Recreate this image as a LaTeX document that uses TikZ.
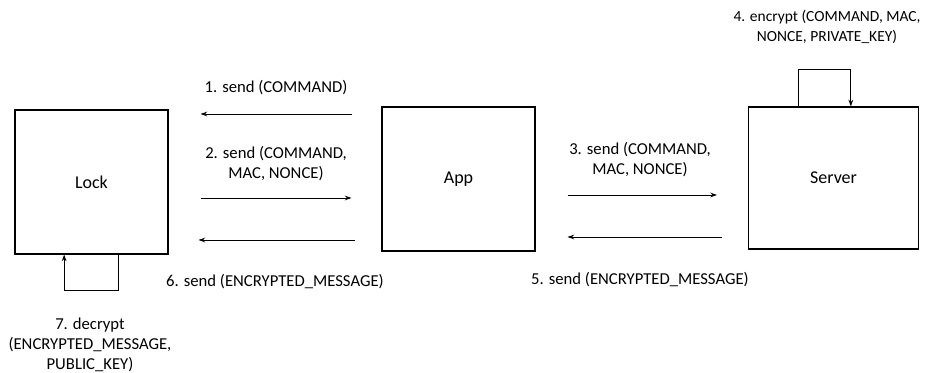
\documentclass[tikz,border=0pt]{standalone}
\usepackage{fontspec}
\setmainfont{Carlito}
\usetikzlibrary{arrows.meta}

\begin{document}
\begin{tikzpicture}[x=0.75pt,y=-0.75pt,
    caja/.style={draw,line width=0.8pt,minimum width=114.75pt,minimum height=108pt,font=\fontsize{13.5}{16}\selectfont},
    msg/.style={-{Stealth[length=5pt,width=3.5pt]},line width=0.7pt},
    etiq/.style={align=center,font=\fontsize{12.5}{15}\selectfont}]
            \useasboundingbox (0,0) rectangle (925,373);
            % Cajas
            \node[caja] (lock) at (91.5,182) {Lock};
            \node[caja] (app) at (458.5,179) {App};
            \node[caja,minimum width=128pt,minimum height=106.5pt] (server) at (833.5,178) {Server};

            % Mensajes entre Lock y App
            \draw[msg,shorten <=21.75pt,shorten >=24pt] (app.west |- 0,114) -- (lock.east |- 0,114);
            \draw[msg,shorten <=24pt,shorten >=22.5pt] (lock.east |- 0,198) -- (app.west |- 0,198);
            \draw[msg,shorten <=20pt,shorten >=22.5pt] (app.west |- 0,240) -- (lock.east |- 0,240);

            % Mensajes entre App y Server
            \draw[msg,shorten <=24pt,shorten >=23pt] (app.east |- 0,195) -- (server.west |- 0,195);
            \draw[msg,shorten <=19pt,shorten >=24pt] (server.west |- 0,237) -- (app.east |- 0,237);

            % Bucles
            \draw[msg] ([xshift=20pt]lock.south) -- ++(0,36) -| ([xshift=-20.5pt]lock.south);
            \draw[msg] ([xshift=-26pt]server.north) -- ++(0,-37) -| ([xshift=13pt]server.north);

            % Etiquetas
            \node[etiq] (m1) at (276,88) {1. send (COMMAND)};
            \node[etiq] (m2) at (276,164) {2. send (COMMAND,\\MAC, NONCE)};
            \node[etiq] (m6) at (275,282) {6. send (ENCRYPTED\_MESSAGE)};
            \node[etiq] (m3) at (640,160) {3. send (COMMAND,\\MAC, NONCE)};
            \node[etiq] (m5) at (640,280) {5. send (ENCRYPTED\_MESSAGE)};
            \node[etiq,font=\fontsize{11.6}{15}\selectfont] (m4) at (827,27) {4. encrypt (COMMAND, MAC,\\NONCE, PRIVATE\_KEY)};
            \node[etiq] (m7) at (90,345) {7. decrypt\\(ENCRYPTED\_MESSAGE,\\PUBLIC\_KEY)};
\end{tikzpicture}
\end{document}
